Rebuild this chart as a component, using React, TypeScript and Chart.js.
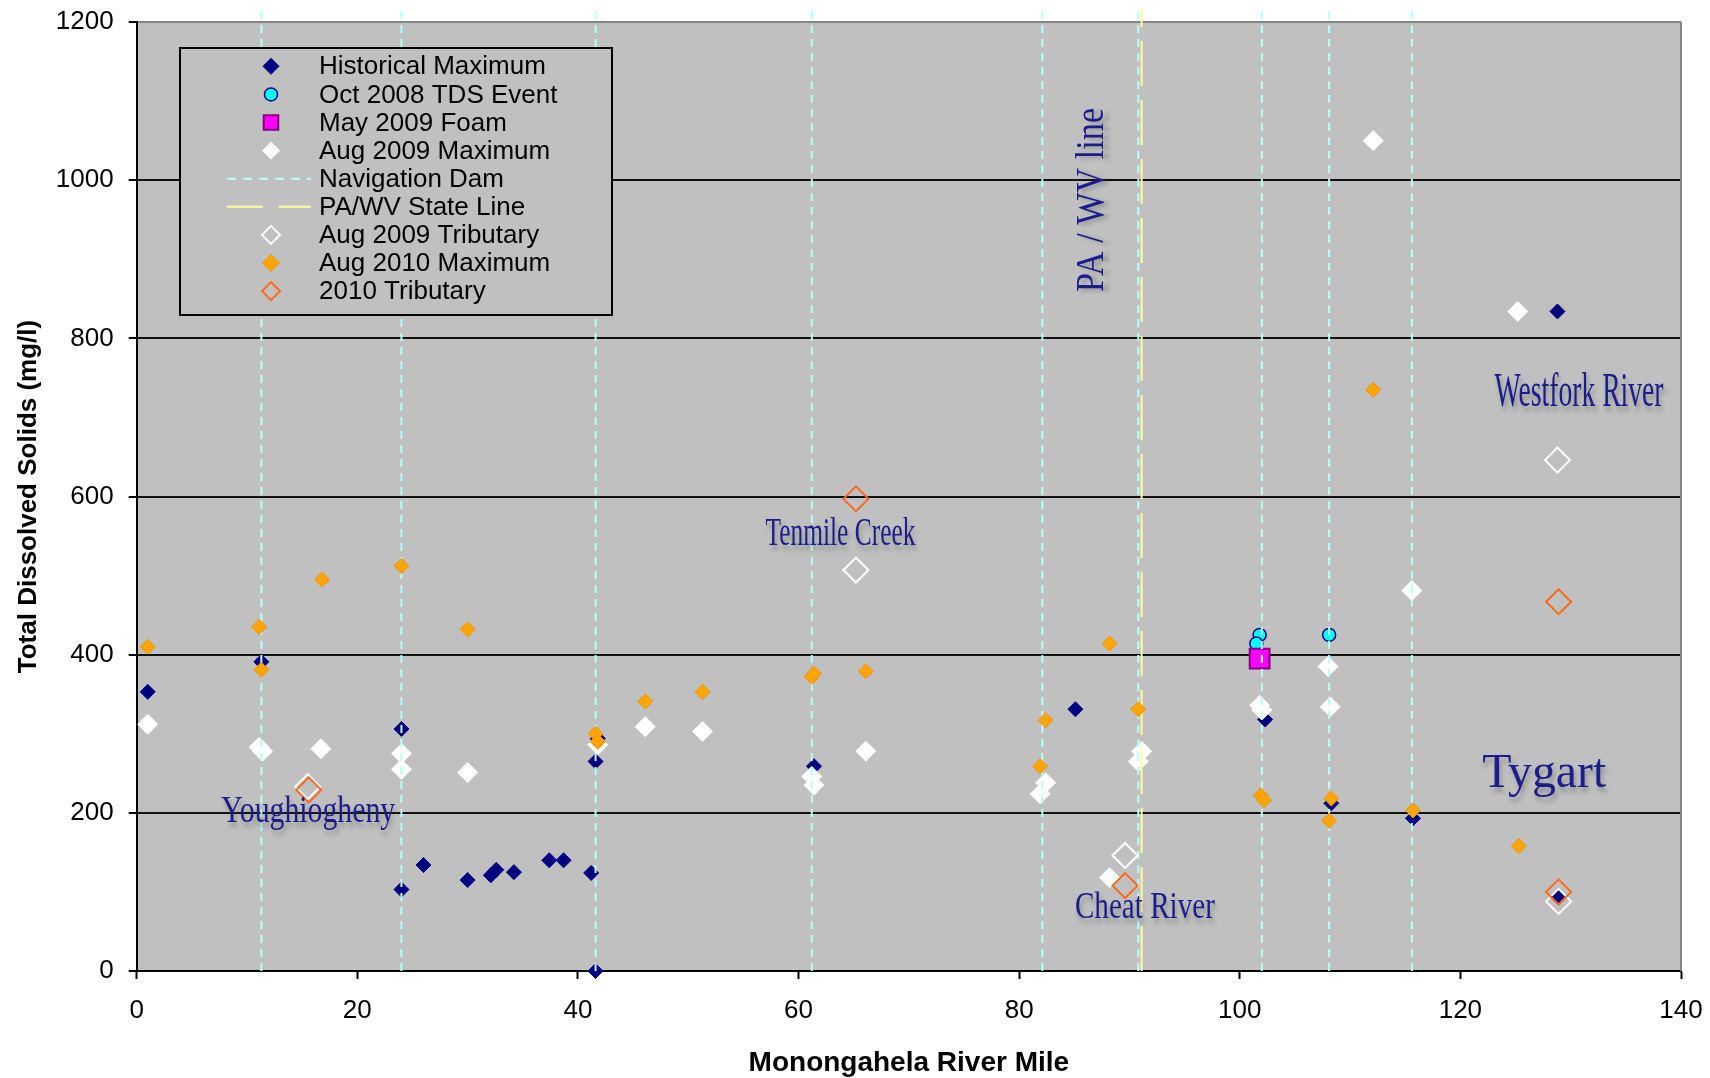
import React, { useEffect, useRef } from 'react';
import { Chart, registerables } from 'chart.js';

Chart.register(...registerables);

type Pt = [number, number];

// ---- axes ----
const X_MIN = 0;
const X_MAX = 140;
const X_STEP = 20;
const Y_MIN = 0;
const Y_MAX = 1200;
const Y_STEP = 200;

// ---- series (river mile, TDS mg/l) ----
const historicalMaximum: Pt[] = [
  [1, 353], [11.3, 391], [24, 306], [24, 103], [26, 134], [30, 115], [32.1, 121], [32.6, 128],
  [34.2, 125], [37.4, 140], [38.7, 140], [41.2, 124], [41.6, 0], [41.6, 265], [41.8, 294],
  [61.4, 259], [85.1, 331], [102.3, 318], [108.3, 212], [115.7, 193], [128.8, 834], [128.9, 93],
];
const oct2008Event: Pt[] = [[101.8, 425], [101.5, 414], [108.1, 425]];
const may2009Foam: Pt[] = [[101.8, 395]];
const aug2009Maximum: Pt[] = [
  [1, 312], [11.1, 283], [11.4, 278], [16.7, 281], [24, 275], [24, 255], [30, 251], [41.8, 286],
  [46.1, 309], [51.3, 303], [61.2, 246], [61.4, 235], [66.1, 278], [81.9, 224], [82.4, 238],
  [88.2, 118], [90.8, 265], [91.1, 278], [101.8, 336], [102.0, 330], [108.0, 385], [108.2, 334],
  [112.1, 1050], [115.6, 481], [125.2, 834],
];
const navigationDamMiles: number[] = [11.3, 24.0, 41.6, 61.2, 82.1, 90.8, 102.0, 108.1, 115.6];
const stateLineMiles: number[] = [91.1];
const referenceLineSpan: number[] = [0, 1216];
const aug2009Tributary: Pt[] = [[15.5, 233], [65.2, 507], [89.6, 146], [128.8, 646], [128.9, 88]];
const aug2010Maximum: Pt[] = [
  [1, 410], [11.1, 435], [11.3, 381], [16.8, 495], [24, 512], [30, 432], [41.6, 300], [41.8, 290],
  [46.1, 341], [51.3, 353], [61.2, 372], [61.4, 376], [66.1, 379], [81.9, 259], [82.4, 317],
  [88.2, 414], [90.8, 331], [101.9, 222], [102.2, 216], [108.1, 190], [108.3, 218], [112.1, 735],
  [115.7, 203], [125.3, 158],
];
const tributary2010: Pt[] = [[15.6, 229], [65.2, 597], [89.6, 108], [128.9, 467], [128.9, 100]];

// ---- text labels on the plot (river mile, TDS) ----
const labelTexts = ['Youghiogheny', 'Tenmile Creek', 'PA / WV line', 'Westfork River', 'Tygart', 'Cheat River'];
const labelMiles = [15.55, 63.8, 87.6, 130.76, 127.6, 91.4];
const labelTds = [189, 539, 975, 714.5, 232.7, 67];

// styles for the labels: font size, drawn width, rotation
const labelStyles = [
  { size: 37, width: 174, rotate: false },
  { size: 39, width: 150, rotate: false },
  { size: 39, width: 184, rotate: true },
  { size: 48, width: 169, rotate: false },
  { size: 48, width: 124, rotate: false },
  { size: 38, width: 140, rotate: false },
];

const toXY = (pts: Pt[]) => pts.map(([x, y]) => ({ x, y }));
const verticalLines = (miles: number[]) =>
  miles.flatMap((m) => [
    { x: m, y: referenceLineSpan[0] },
    { x: m, y: referenceLineSpan[1] },
    { x: m, y: null as any },
  ]);

function drawMarker(
  ctx: CanvasRenderingContext2D,
  style: string,
  x: number,
  y: number,
  r: number,
  fill: string,
  stroke: string,
  bw: number
) {
  ctx.beginPath();
  if (style === 'rectRot') {
    ctx.moveTo(x, y - r);
    ctx.lineTo(x + r, y);
    ctx.lineTo(x, y + r);
    ctx.lineTo(x - r, y);
    ctx.closePath();
  } else if (style === 'rect') {
    const h = r * Math.SQRT1_2;
    ctx.rect(x - h, y - h, 2 * h, 2 * h);
  } else {
    ctx.arc(x, y, r, 0, Math.PI * 2);
  }
  if (fill && fill !== 'transparent') {
    ctx.fillStyle = fill;
    ctx.fill();
  }
  if (bw > 0) {
    ctx.lineWidth = bw;
    ctx.strokeStyle = stroke;
    ctx.stroke();
  }
}

const PLOT_BG = '#C0C0C0';

const plotPlugin = {
  id: 'plotDecor',
  beforeDraw(chart: any) {
    const { ctx, chartArea: a } = chart;
    ctx.save();
    ctx.fillStyle = PLOT_BG;
    ctx.fillRect(a.left, a.top, a.right - a.left, a.bottom - a.top);
    ctx.restore();
  },
  beforeDatasetsDraw(chart: any) {
    const { ctx, chartArea: a } = chart;
    ctx.save();
    ctx.strokeStyle = '#858585';
    ctx.lineWidth = 2;
    ctx.beginPath();
    ctx.moveTo(a.right, a.top);
    ctx.lineTo(a.right, a.bottom);
    ctx.stroke();
    ctx.restore();
  },
  afterDatasetsDraw(chart: any) {
    const { ctx } = chart;
    const xs = chart.scales.x;
    const ys = chart.scales.y;
    // text labels
    labelTexts.forEach((t, i) => {
      const st = labelStyles[i];
      const px = xs.getPixelForValue(labelMiles[i]);
      const py = ys.getPixelForValue(labelTds[i]);
      ctx.save();
      ctx.font = `${st.size}px "Liberation Serif", "Times New Roman", serif`;
      const w = ctx.measureText(t).width;
      const sx = st.width / w;
      ctx.translate(px, py);
      if (st.rotate) ctx.rotate(-Math.PI / 2);
      ctx.scale(sx, 1);
      ctx.textAlign = 'center';
      ctx.textBaseline = 'alphabetic';
      ctx.shadowColor = 'rgba(60,60,60,0.35)';
      ctx.shadowOffsetX = st.rotate ? 5 : 2;
      ctx.shadowOffsetY = st.rotate ? 2 : 5;
      ctx.shadowBlur = 4;
      ctx.fillStyle = '#1C1C8C';
      ctx.fillText(t, 0, 0);
      ctx.restore();
    });

    // legend
    const L = { left: 180, top: 48, right: 612, bottom: 315, row0: 66.3, step: 28.1, markX: 271, lineX0: 227, lineX1: 311, textX: 319 };
    ctx.save();
    ctx.fillStyle = PLOT_BG;
    ctx.fillRect(L.left, L.top, L.right - L.left, L.bottom - L.top);
    ctx.strokeStyle = '#000';
    ctx.lineWidth = 2;
    ctx.strokeRect(L.left, L.top, L.right - L.left, L.bottom - L.top);
    chart.data.datasets.forEach((ds: any, i: number) => {
      const y = L.row0 + L.step * i;
      if (ds.showLine) {
        ctx.save();
        ctx.strokeStyle = ds.borderColor;
        ctx.lineWidth = ds.borderWidth;
        ctx.setLineDash(ds.legendDash || ds.borderDash || []);
        ctx.beginPath();
        ctx.moveTo(L.lineX0, y);
        ctx.lineTo(L.lineX1, y);
        ctx.stroke();
        ctx.restore();
      } else {
        drawMarker(ctx, ds.pointStyle, L.markX, y, ds.legendRadius, ds.pointBackgroundColor, ds.pointBorderColor, ds.pointBorderWidth);
      }
      ctx.fillStyle = '#000';
      ctx.font = '26px "Liberation Sans", Arial, sans-serif';
      ctx.textAlign = 'left';
      ctx.textBaseline = 'middle';
      ctx.fillText(ds.label, L.textX, y + 1);
    });
    ctx.restore();
  },
};

function buildDatasets() {
  const base = { clip: false as any, showLine: false, pointHoverRadius: 0 };
  const list: any[] = [
    {
      ...base, label: 'Historical Maximum', data: toXY(historicalMaximum), pointStyle: 'rectRot',
      pointRadius: 7.5, pointBackgroundColor: '#000080', pointBorderColor: '#000080', pointBorderWidth: 1, legendRadius: 8,
    },
    {
      ...base, label: 'Oct 2008 TDS Event', data: toXY(oct2008Event), pointStyle: 'circle',
      pointRadius: 6.5, pointBackgroundColor: '#00FFFF', pointBorderColor: '#000080', pointBorderWidth: 1.5, legendRadius: 6.5,
    },
    {
      ...base, label: 'May 2009 Foam', data: toXY(may2009Foam), pointStyle: 'rect',
      pointRadius: 14, pointBackgroundColor: '#FF00FF', pointBorderColor: '#800080', pointBorderWidth: 2, legendRadius: 10.3,
    },
    {
      ...base, label: 'Aug 2009 Maximum', data: toXY(aug2009Maximum), pointStyle: 'rectRot',
      pointRadius: 10, pointBackgroundColor: '#FFFFFF', pointBorderColor: '#FFFFFF', pointBorderWidth: 1, legendRadius: 8.5,
    },
    {
      ...base, label: 'Navigation Dam', data: verticalLines(navigationDamMiles), showLine: true, spanGaps: false,
      borderColor: '#B8FFFF', borderWidth: 2, borderDash: [8, 6], legendDash: [9, 7], pointRadius: 0,
    },
    {
      ...base, label: 'PA/WV State Line', data: verticalLines(stateLineMiles), showLine: true, spanGaps: false,
      borderColor: '#FFFF99', borderWidth: 2, borderDash: [45, 14], legendDash: [36, 16], pointRadius: 0,
    },
    {
      ...base, label: 'Aug 2009 Tributary', data: toXY(aug2009Tributary), pointStyle: 'rectRot',
      pointRadius: 12.5, pointBackgroundColor: 'transparent', pointBorderColor: '#FFFFFF', pointBorderWidth: 2, legendRadius: 9,
    },
    {
      ...base, label: 'Aug 2010 Maximum', data: toXY(aug2010Maximum), pointStyle: 'rectRot',
      pointRadius: 7.5, pointBackgroundColor: '#FFA500', pointBorderColor: '#F29400', pointBorderWidth: 1, legendRadius: 8.5,
    },
    {
      ...base, label: '2010 Tributary', data: toXY(tributary2010), pointStyle: 'rectRot',
      pointRadius: 12.5, pointBackgroundColor: 'transparent', pointBorderColor: '#FF6A1A', pointBorderWidth: 2, legendRadius: 9,
    },
  ];
  const n = list.length;
  list.forEach((d, i) => {
    d.order = n - i; // later series drawn on top
    d.backgroundColor = d.pointBackgroundColor || d.borderColor;
    if (!d.showLine) d.borderColor = d.pointBorderColor;
  });
  return list;
}

export default function App() {
  const canvasRef = useRef<HTMLCanvasElement | null>(null);

  useEffect(() => {
    if (!canvasRef.current) return;
    const tickFont = { family: '"Liberation Sans", Arial, sans-serif', size: 26 };
    const chart = new Chart(canvasRef.current, {
      type: 'scatter',
      data: { datasets: buildDatasets() },
      plugins: [plotPlugin],
      options: {
        animation: false,
        responsive: true,
        maintainAspectRatio: false,
        events: [],
        layout: { padding: { left: 0, top: 22, right: 29, bottom: 0 } },
        plugins: { legend: { display: false }, tooltip: { enabled: false } },
        scales: {
          x: {
            type: 'linear',
            min: X_MIN,
            max: X_MAX,
            afterFit: (s: any) => {
              s.height = 107;
              s.paddingLeft = 0;
              s.paddingRight = 0;
            },
            ticks: { stepSize: X_STEP, color: '#000', font: tickFont, padding: 16, maxRotation: 0, callback: (v: any) => String(v) },
            grid: { drawOnChartArea: false, drawTicks: true, tickLength: 8, tickWidth: 2, tickColor: '#000' },
            border: { color: '#000', width: 2 },
            title: {
              display: true,
              text: 'Monongahela River Mile',
              color: '#000',
              font: { family: '"Liberation Sans", Arial, sans-serif', size: 28, weight: 'bold' },
              padding: { top: 0, bottom: -2 },
            },
          },
          y: {
            type: 'linear',
            min: Y_MIN,
            max: Y_MAX,
            afterFit: (s: any) => {
              s.width = 136.7;
              s.paddingTop = 0;
              s.paddingBottom = 0;
            },
            ticks: { stepSize: Y_STEP, color: '#000', font: tickFont, padding: 15, callback: (v: any) => String(v) },
            grid: {
              color: (c: any) => (c.tick && c.tick.value === Y_MAX ? '#858585' : '#111'),
              lineWidth: 2,
              drawTicks: true,
              tickLength: 8,
              tickWidth: 2,
              tickColor: '#000',
            },
            border: { color: '#000', width: 2 },
            title: {
              display: true,
              text: 'Total Dissolved Solids (mg/l)',
              color: '#000',
              font: { family: '"Liberation Sans", Arial, sans-serif', size: 26, weight: 'bold' },
              padding: { top: 13, bottom: 0 },
            },
          },
        },
      } as any,
    });
    return () => chart.destroy();
  }, []);

  return (
    <div style={{ position: 'fixed', left: 0, top: 0, width: 1710, height: 1078, background: '#fff' }}>
      <canvas ref={canvasRef} />
    </div>
  );
}
